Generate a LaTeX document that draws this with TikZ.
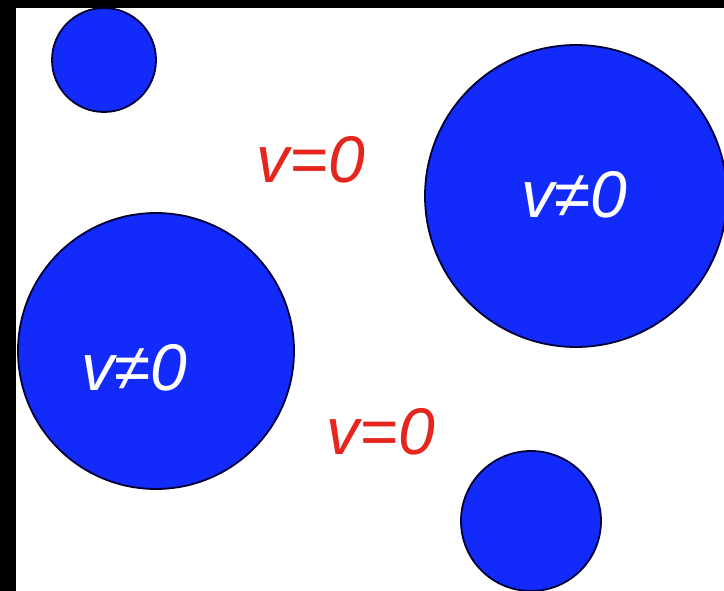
\documentclass[tikz,border=0pt]{standalone}
\usepackage{fontspec}
\setmainfont{Liberation Sans}
\usetikzlibrary{positioning}

\definecolor{ballblue}{RGB}{18,42,250}
\definecolor{velred}{RGB}{228,38,30}

\begin{document}
\begin{tikzpicture}[x=1pt,y=-1pt,
    ball/.style={circle, draw=black!80!blue, line width=1.8pt,
                 fill=ballblue, inner sep=0pt},
    vel/.style={font=\fontsize{66}{74}\selectfont\itshape, inner sep=0pt}]

% frame
\useasboundingbox (0,0) rectangle (724,591);
\fill[black] (0,0) rectangle (724,591);
\fill[white] (16,8) rectangle (724,591);

% balls
\node[ball, minimum size=104] (ballA) at (104,60) {};
\node[ball, minimum size=302] (ballB) at (576,196) {};
\node[ball, minimum size=276] (ballC) at (156,351) {};
\node[ball, minimum size=140] (ballD) at (531,521) {};

% velocities
\node[vel, text=velred] (velA) at (311,160) {v=0};
\node[vel, text=white] (velB) at (574,195) {v≠0};
\node[vel, text=white] (velC) at (134,368) {v≠0};
\node[vel, text=velred] (velD) at (381,432) {v=0};

\end{tikzpicture}
\end{document}
